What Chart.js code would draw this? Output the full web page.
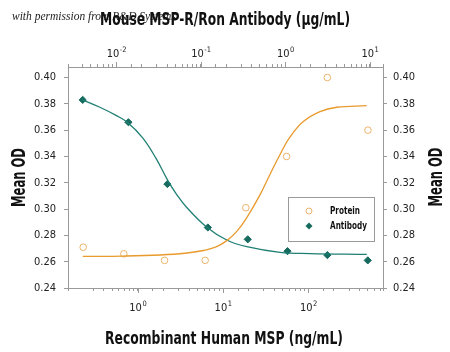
<!DOCTYPE html>
<html>
<head>
<meta charset="utf-8">
<script src="https://cdn.jsdelivr.net/npm/chart.js@4.4.1/dist/chart.umd.min.js"></script>
<style>
body { margin: 0; background: #fff; }
canvas { display: block; }
</style>
</head>
<body>
<canvas id="odChart" width="450" height="352"></canvas>
<script>
// measured points (protein on the ng/mL axis, antibody on the ug/mL axis)
const proteinConc = [0.229, 0.686, 2.06, 6.17, 18.5, 55.6, 167, 500];
const proteinOD = [0.271, 0.266, 0.261, 0.261, 0.301, 0.340, 0.400, 0.360];
const antibodyConc = [0.0040, 0.0139, 0.0402, 0.121, 0.359, 1.06, 3.14, 9.44];
const antibodyOD = [0.383, 0.366, 0.319, 0.286, 0.277, 0.268, 0.265, 0.261];

// fitted curves
const proteinFitConc = [0.2266, 0.667, 1.83, 3.59, 5.88, 8.28, 11.05, 14.5, 19.0, 27.2, 35.6, 46.6, 61.0, 87.3, 137, 215, 484];
const proteinFitOD = [0.2640, 0.2643, 0.2651, 0.2664, 0.2685, 0.2712, 0.2760, 0.2830, 0.2935, 0.3110, 0.3265, 0.3415, 0.3548, 0.3665, 0.3741, 0.3774, 0.3786];
const antibodyFitConc = [0.00393, 0.0063, 0.00992, 0.0136, 0.0205, 0.0295, 0.0406, 0.0509, 0.0681, 0.1175, 0.2026, 0.349, 0.865, 1.96, 9.18];
const antibodyFitOD = [0.3832, 0.3776, 0.3712, 0.3658, 0.3541, 0.3385, 0.3218, 0.3118, 0.3012, 0.2862, 0.2765, 0.2714, 0.2671, 0.2662, 0.2656];

// tick labels
const bottomDecades = [1, 10, 100];
const bottomExps = ['0', '1', '2'];
const topDecades = [0.01, 0.1, 1, 10];
const topExps = ['-2', '-1', '0', '1'];

const FONT = '"DejaVu Sans Condensed", "Liberation Sans Narrow", "Liberation Sans", sans-serif';
const ORANGE = '#e89a2c';
const ORANGE_PT = '#ebb36a';
const TEAL = '#1f7f74';
const TEAL_PT = '#166a5e';
const FRAME = '#9a9a9a';

function pts(xs, ys) {
  return xs.map((x, i) => ({ x: x, y: ys[i] }));
}

function fitText(ctx, text, x, y, width, font, rot, align) {
  ctx.save();
  ctx.font = font;
  const w = ctx.measureText(text).width;
  ctx.translate(x, y);
  if (rot) ctx.rotate(rot);
  ctx.scale(width / w, 1);
  ctx.textAlign = align || 'center';
  ctx.fillText(text, 0, 0);
  ctx.restore();
}

function powerLabel(ctx, px, baseline, exp) {
  ctx.font = '11px ' + FONT;
  const w10 = ctx.measureText('10').width;
  ctx.font = '7.5px ' + FONT;
  const wE = ctx.measureText(exp).width;
  const start = px - (w10 + wE) / 2;
  ctx.textAlign = 'left';
  ctx.textBaseline = 'alphabetic';
  ctx.font = '11px ' + FONT;
  ctx.fillText('10', start, baseline);
  ctx.font = '7.5px ' + FONT;
  ctx.fillText(exp, start + w10 + 0.5, baseline - 5);
}

const decorations = {
  id: 'decorations',
  afterDraw(chart) {
    const ctx = chart.ctx;
    const a = chart.chartArea;
    const xb = chart.scales.x;
    const xt = chart.scales.xTop;

    // longer major ticks
    ctx.save();
    ctx.strokeStyle = FRAME;
    ctx.lineWidth = 1;
    bottomDecades.forEach(v => {
      const px = Math.round(xb.getPixelForValue(v)) + 0.5;
      ctx.beginPath(); ctx.moveTo(px, a.bottom); ctx.lineTo(px, a.bottom + 5); ctx.stroke();
    });
    topDecades.forEach(v => {
      const px = Math.round(xt.getPixelForValue(v)) + 0.5;
      ctx.beginPath(); ctx.moveTo(px, a.top); ctx.lineTo(px, a.top - 5); ctx.stroke();
    });
    ctx.restore();

    // power-of-ten labels
    ctx.save();
    ctx.fillStyle = '#222';
    bottomDecades.forEach((v, i) => powerLabel(ctx, xb.getPixelForValue(v), 310.5, bottomExps[i]));
    topDecades.forEach((v, i) => powerLabel(ctx, xt.getPixelForValue(v), 56.5, topExps[i]));
    ctx.restore();

    // watermark and titles
    ctx.save();
    ctx.fillStyle = '#222';
    ctx.font = 'italic 11.5px "Liberation Serif", "DejaVu Serif", serif';
    ctx.textAlign = 'left';
    ctx.fillText('with permission from R&D Systems', 12, 20);
    ctx.fillStyle = '#111';
    const bold = 'bold 18px ' + FONT;
    fitText(ctx, 'Mouse MSP-R/Ron Antibody (\u00b5g/mL)', 225, 25, 250, bold);
    fitText(ctx, 'Recombinant Human MSP (ng/mL)', 224, 344, 238, bold);
    fitText(ctx, 'Mean OD', 25, 177.5, 59, 'bold 19px ' + FONT, -Math.PI / 2);
    fitText(ctx, 'Mean OD', 441.5, 177, 59, 'bold 19px ' + FONT, -Math.PI / 2);
    ctx.restore();

    // legend
    ctx.save();
    ctx.fillStyle = '#fff';
    ctx.fillRect(288, 197, 86, 44);
    ctx.strokeStyle = FRAME;
    ctx.lineWidth = 1;
    ctx.strokeRect(288.5, 197.5, 86, 44);
    ctx.beginPath();
    ctx.arc(309, 211, 3, 0, Math.PI * 2);
    ctx.strokeStyle = ORANGE_PT;
    ctx.stroke();
    ctx.beginPath();
    ctx.moveTo(309, 222.5); ctx.lineTo(312.5, 226); ctx.lineTo(309, 229.5); ctx.lineTo(305.5, 226); ctx.closePath();
    ctx.fillStyle = TEAL_PT;
    ctx.fill();
    ctx.fillStyle = '#111';
    const lf = 'bold 10.5px ' + FONT;
    ctx.font = lf;
    const sx = 37 / ctx.measureText('Antibody').width;
    ctx.textBaseline = 'middle';
    chart.data.datasets.filter(d => d.inLegend).forEach((d, i) => {
      const w = ctx.measureText(d.label).width * sx;
      fitText(ctx, d.label, 330, 211.5 + i * 15, w, lf, 0, 'left');
    });
    ctx.restore();
  }
};

const tickFont = { family: FONT, size: 11 };
const gridOpts = { drawOnChartArea: false, color: FRAME, tickLength: 3 };
const borderOpts = { color: FRAME, width: 1 };

new Chart(document.getElementById('odChart'), {
  type: 'scatter',
  data: {
    datasets: [
      {
        label: 'Protein fit', data: pts(proteinFitConc, proteinFitOD), xAxisID: 'x', yAxisID: 'y',
        showLine: true, pointRadius: 0, borderColor: ORANGE, borderWidth: 1.3, tension: 0.4
      },
      {
        label: 'Antibody fit', data: pts(antibodyFitConc, antibodyFitOD), xAxisID: 'xTop', yAxisID: 'y',
        showLine: true, pointRadius: 0, borderColor: TEAL, borderWidth: 1.3, tension: 0.4
      },
      {
        label: 'Protein', inLegend: true, data: pts(proteinConc, proteinOD), xAxisID: 'x', yAxisID: 'y',
        pointStyle: 'circle', pointRadius: 3.3, backgroundColor: 'rgba(255,255,255,0)', borderColor: ORANGE_PT, borderWidth: 1
      },
      {
        label: 'Antibody', inLegend: true, data: pts(antibodyConc, antibodyOD), xAxisID: 'xTop', yAxisID: 'y',
        pointStyle: 'rectRot', pointRadius: 3.6, backgroundColor: TEAL_PT, borderColor: TEAL_PT, borderWidth: 1
      }
    ]
  },
  options: {
    responsive: false,
    animation: false,
    devicePixelRatio: 1,
    layout: { padding: 0 },
    plugins: { legend: { display: false }, tooltip: { enabled: false } },
    scales: {
      x: {
        type: 'logarithmic', position: 'bottom', min: 0.152, max: 751,
        grid: gridOpts, border: borderOpts,
        ticks: { autoSkip: false, maxRotation: 0, callback: () => '' },
        afterFit: s => { s.height = 64; }
      },
      xTop: {
        type: 'logarithmic', position: 'top', min: 0.00268, max: 14.3,
        grid: gridOpts, border: borderOpts,
        ticks: { autoSkip: false, maxRotation: 0, callback: () => '' },
        afterFit: s => { s.height = 67; }
      },
      y: {
        position: 'left', min: 0.24, max: 0.408,
        grid: { drawOnChartArea: false, color: FRAME, tickLength: 4 }, border: borderOpts,
        ticks: { stepSize: 0.02, includeBounds: false, padding: 8, color: '#222', font: tickFont, callback: v => v.toFixed(2) },
        afterFit: s => { s.width = 68; }
      },
      y2: {
        position: 'right', min: 0.24, max: 0.408,
        grid: { drawOnChartArea: false, color: FRAME, tickLength: 4 }, border: borderOpts,
        ticks: { stepSize: 0.02, includeBounds: false, padding: 6, color: '#222', font: tickFont, callback: v => v.toFixed(2) },
        afterFit: s => { s.width = 67; }
      }
    }
  },
  plugins: [decorations]
});
</script>
</body>
</html>
